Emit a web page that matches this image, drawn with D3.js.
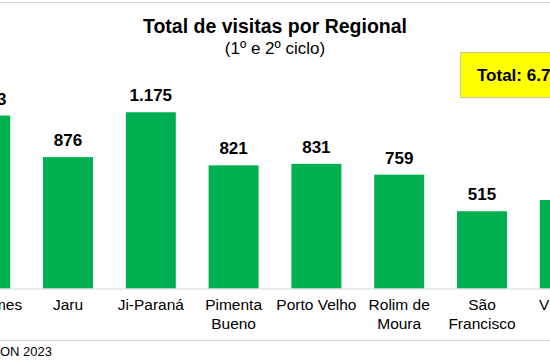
<!DOCTYPE html>
<html><head><meta charset="utf-8">
<script src="https://cdn.jsdelivr.net/npm/d3@7"></script>
<style>body{margin:0;background:#fff}svg{display:block;font-family:Arial,"Liberation Sans",sans-serif}</style>
</head><body>
<svg id="c" width="550" height="360"></svg>
<script>
const categories = ["Ariquemes","Jaru","Ji-Paraná","Pimenta Bueno","Porto Velho","Rolim de Moura","São Francisco","Vilhena"];
const labelLines = [["Ariquemes"],["Jaru"],["Ji-Paraná"],["Pimenta","Bueno"],["Porto Velho"],["Rolim de","Moura"],["São","Francisco"],["Vilhena"]];
const values = [1153, 876, 1175, 821, 831, 759, 515, 590];
const valueLabels = ["1.153","876","1.175","821","831","759","515","590"];
const totalText = "Total: 6.720";

const svg = d3.select("#c");

const x = d3.scaleBand().domain(categories).range([-56.2, 606.2]).paddingInner(0.396).paddingOuter(0.198);
const y = d3.scaleLinear().domain([0, 1200]).range([288.5, 108.5]);

// top border line
svg.append("line").attr("x1",0).attr("x2",550).attr("y1",2.5).attr("y2",2.5).attr("stroke","#d0d0d0").attr("stroke-width",1.2);

svg.append("text").attr("x",275).attr("y",33).attr("text-anchor","middle")
  .attr("font-size",19.5).attr("font-weight","bold").attr("fill","#000").text("Total de visitas por Regional");
svg.append("text").attr("x",275).attr("y",54).attr("text-anchor","middle")
  .attr("font-size",17).attr("fill","#000").text("(1º e 2º ciclo)");

// bars
svg.selectAll("rect.bar").data(values).join("rect").attr("class","bar")
  .attr("x",(d,i)=>x(categories[i])).attr("width",x.bandwidth())
  .attr("y",d=>y(d)).attr("height",d=>y(0)-y(d)).attr("fill","#00B050");

// baseline
svg.append("line").attr("x1",0).attr("x2",550).attr("y1",y(0)+0.5).attr("y2",y(0)+0.5).attr("stroke","#d9d9d9").attr("stroke-width",1.2);

// value labels
svg.selectAll("text.val").data(values).join("text").attr("class","val")
  .attr("x",(d,i)=>x(categories[i])+x.bandwidth()/2).attr("y",d=>y(d)-11)
  .attr("text-anchor","middle").attr("font-size",17).attr("font-weight","bold").attr("fill","#000")
  .text((d,i)=>valueLabels[i]);

// category labels
const cl = svg.selectAll("text.cat").data(labelLines).join("text").attr("class","cat")
  .attr("text-anchor","middle").attr("font-size",15.5).attr("fill","#000");
cl.each(function(lines,i){
  const t = d3.select(this);
  lines.forEach((ln,j)=>{
    t.append("tspan").attr("x",x(categories[i])+x.bandwidth()/2).attr("y",309.5+j*19).text(ln);
  });
});

// total box
svg.append("rect").attr("x",460.5).attr("y",52.5).attr("width",120).attr("height",45)
  .attr("fill","#FFFF00").attr("stroke","#c8c890").attr("stroke-width",1);
svg.append("text").attr("x",477).attr("y",81).attr("font-size",17).attr("font-weight","bold").attr("fill","#000").text(totalText);

// footer line and source
svg.append("line").attr("x1",0).attr("x2",550).attr("y1",340.5).attr("y2",340.5).attr("stroke","#d0d0d0").attr("stroke-width",1);
svg.append("text").attr("x",52).attr("y",356).attr("text-anchor","end").attr("font-size",13).attr("fill","#000").text("Fonte: AGEVISA-RON 2023");
</script>
</body></html>
